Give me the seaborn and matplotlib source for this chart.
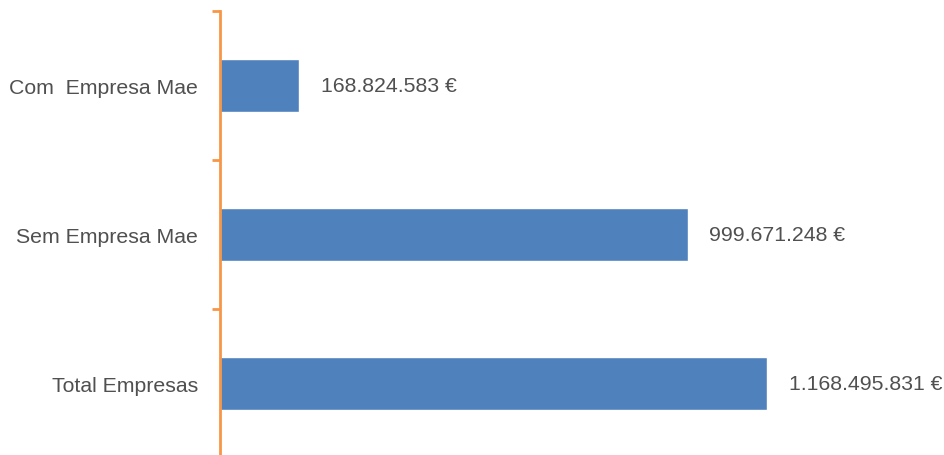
import matplotlib.pyplot as plt
import seaborn as sns
import pandas as pd

categories = ['Com  Empresa Mae', 'Sem Empresa Mae', 'Total Empresas']
values = [168824583, 999671248, 1168495831]
value_labels = ['168.824.583 €', '999.671.248 €', '1.168.495.831 €']

df = pd.DataFrame({'categoria': categories, 'valor': values})

sns.set_theme(style='white')
plt.rcParams['font.family'] = ['Liberation Sans', 'DejaVu Sans']

fig = plt.figure(figsize=(9.44, 4.56), dpi=100)
ax = fig.add_axes([220 / 944, -3 / 456, 720 / 944, 447 / 456])

sns.barplot(data=df, x='valor', y='categoria', color='#4F81BD', width=0.355,
            saturation=1, ax=ax)

ax.set_xlim(0, 1168495831 * 720 / 547)
ax.set_ylim(2.5, -0.5)
ax.set_xlabel('')
ax.set_ylabel('')
ax.set_xticks([])

# rotulos de valor ao lado das barras
for i, (v, lab) in enumerate(zip(values, value_labels)):
    ax.annotate(lab, (v, i), xytext=(15.5, 0), textcoords='offset points',
                va='center', ha='left', fontsize=15.3, color='#505050')

# eixo vertical laranja com marcas entre categorias
for s in ['top', 'right', 'bottom']:
    ax.spines[s].set_visible(False)
ax.spines['left'].set_color('#F79646')
ax.spines['left'].set_linewidth(2)
ax.set_yticks([-0.5, 0.5, 1.5, 2.5], minor=True)
ax.tick_params(axis='y', which='minor', length=5.5, width=2, color='#F79646', left=True)
ax.tick_params(axis='y', which='major', length=0, pad=16, labelsize=15.3,
               labelcolor='#505050')

fig.savefig('out.png', dpi=100)
